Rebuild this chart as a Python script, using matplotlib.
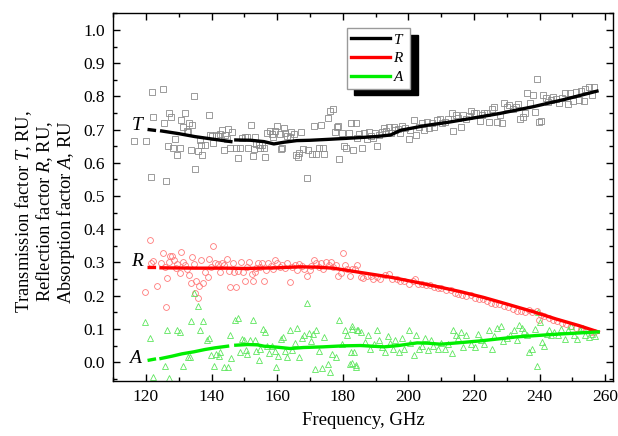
# -*- coding: utf-8 -*-
"""
T, R, A of the sample vs frequency
points = measured, thick line = smoothed
"""

import numpy as np
import matplotlib
matplotlib.use('Agg')
import matplotlib.pyplot as plt

plt.rcParams['font.family'] = 'Liberation Serif'
plt.rcParams['mathtext.fontset'] = 'custom'
plt.rcParams['mathtext.rm'] = 'Liberation Serif'
plt.rcParams['mathtext.it'] = 'Liberation Serif:italic'

############################## measured points ################################
# transmission T (gray squares)
freq_T = [116.3, 120.0, 121.5, 121.8, 122.2, 125.2, 125.5, 126.1, 126.8, 127.1,
          127.8, 128.3, 128.9, 129.5, 130.3, 130.8, 131.4, 131.8, 132.4, 132.8,
          133.2, 133.6, 134.2, 134.6, 135.1, 136.0, 136.4, 136.8, 137.2, 137.9,
          139.3, 139.6, 140.1, 140.6, 141.3, 141.9, 142.5, 143.2, 143.7, 144.0,
          144.7, 145.0, 145.5, 146.3, 147.5, 148.2, 148.7, 149.4, 150.2, 150.7,
          151.2, 152.0, 152.5, 153.0, 153.3, 153.7, 154.4, 154.9, 155.5, 155.9,
          156.3, 157.0, 157.8, 158.3, 158.8, 159.3, 160.0, 160.8, 161.1, 161.6,
          162.0, 162.5, 163.0, 163.8, 164.3, 165.0, 165.8, 166.3, 166.8, 167.3,
          168.0, 169.0, 169.3, 170.6, 171.1, 171.9, 172.7, 173.4, 174.1, 174.4,
          175.4, 176.1, 176.9, 177.7, 178.1, 178.7, 178.9, 179.9, 180.4, 181.1,
          181.9, 182.4, 183.1, 183.9, 184.5, 185.0, 186.0, 186.5, 187.5, 188.0,
          188.5, 189.2, 189.8, 190.5, 191.2, 192.0, 192.5, 193.2, 194.0, 194.8,
          195.5, 196.0, 196.8, 197.5, 198.2, 199.1, 200.1, 200.6, 201.6, 202.3,
          203.1, 204.1, 204.9, 205.6, 206.3, 207.1, 207.9, 208.6, 209.6, 210.3,
          211.1, 212.1, 213.2, 213.7, 214.4, 215.2, 216.0, 216.7, 217.7, 218.4,
          219.2, 220.0, 220.7, 221.7, 222.4, 223.2, 224.0, 224.7, 225.4, 226.2,
          227.1, 227.8, 228.5, 229.3, 230.1, 230.8, 231.8, 232.8, 233.5, 234.1,
          234.8, 235.5, 236.3, 237.1, 238.1, 238.5, 239.1, 239.8, 240.3, 241.1,
          241.9, 242.6, 243.4, 244.2, 244.9, 245.9, 246.9, 247.9, 248.6, 249.4,
          250.2, 251.2, 251.9, 252.6, 253.4, 253.9, 255.0, 256.0, 256.7]
T_pts = [0.667, 0.667, 0.556, 0.814, 0.739, 0.821, 0.719, 0.545, 0.650, 0.749,
         0.739, 0.646, 0.671, 0.623, 0.644, 0.729, 0.709, 0.751, 0.697, 0.694,
         0.721, 0.639, 0.714, 0.801, 0.581, 0.637, 0.669, 0.654, 0.625, 0.654,
         0.744, 0.684, 0.681, 0.659, 0.684, 0.681, 0.687, 0.699, 0.639, 0.684,
         0.671, 0.701, 0.646, 0.694, 0.644, 0.616, 0.644, 0.674, 0.677, 0.677,
         0.646, 0.714, 0.621, 0.641, 0.677, 0.657, 0.654, 0.646, 0.654, 0.646,
         0.619, 0.691, 0.697, 0.687, 0.679, 0.697, 0.711, 0.687, 0.641, 0.644,
         0.704, 0.691, 0.681, 0.677, 0.694, 0.687, 0.623, 0.619, 0.631, 0.694,
         0.641, 0.553, 0.639, 0.628, 0.711, 0.628, 0.646, 0.714, 0.646, 0.628,
         0.734, 0.757, 0.761, 0.694, 0.709, 0.711, 0.613, 0.691, 0.650, 0.644,
         0.691, 0.721, 0.639, 0.721, 0.674, 0.687, 0.646, 0.691, 0.671, 0.694,
         0.681, 0.674, 0.689, 0.650, 0.684, 0.694, 0.704, 0.697, 0.709, 0.691,
         0.709, 0.699, 0.701, 0.691, 0.711, 0.704, 0.671, 0.699, 0.729, 0.684,
         0.709, 0.721, 0.699, 0.724, 0.704, 0.719, 0.709, 0.729, 0.731, 0.721,
         0.724, 0.731, 0.749, 0.697, 0.744, 0.734, 0.709, 0.744, 0.731, 0.741,
         0.757, 0.749, 0.751, 0.727, 0.744, 0.751, 0.749, 0.724, 0.761, 0.769,
         0.724, 0.744, 0.721, 0.779, 0.767, 0.774, 0.761, 0.769, 0.777, 0.731,
         0.737, 0.749, 0.809, 0.779, 0.804, 0.754, 0.854, 0.724, 0.727, 0.804,
         0.794, 0.784, 0.789, 0.797, 0.791, 0.781, 0.794, 0.809, 0.777, 0.811,
         0.787, 0.814, 0.789, 0.817, 0.787, 0.821, 0.827, 0.804, 0.829]

# reflection R (red circles)
freq_R = [119.8, 121.3, 121.7, 122.3, 123.3, 124.7, 125.1, 125.7, 126.1, 126.5,
          127.1, 127.4, 128.1, 128.6, 129.1, 129.6, 130.4, 130.8, 131.4, 131.8,
          132.4, 133.1, 133.6, 134.1, 134.6, 135.1, 135.4, 135.8, 136.1, 136.8,
          137.4, 138.1, 138.8, 139.2, 139.8, 140.6, 141.1, 141.9, 142.5, 143.2,
          143.9, 144.7, 145.2, 145.7, 146.5, 146.9, 147.5, 148.2, 148.9, 149.5,
          150.2, 150.9, 151.5, 152.2, 152.7, 153.2, 153.7, 154.2, 154.9, 155.5,
          155.9, 156.6, 157.3, 158.0, 158.8, 159.5, 160.1, 160.8, 161.6, 162.3,
          163.0, 163.8, 164.6, 165.3, 166.0, 166.8, 167.6, 168.3, 169.0, 169.9,
          170.4, 171.1, 171.9, 172.7, 173.4, 174.1, 174.9, 175.7, 176.4, 177.1,
          177.9, 178.7, 179.4, 180.1, 180.7, 181.4, 182.1, 182.9, 183.7, 184.4,
          185.5, 186.2, 187.5, 188.5, 189.2, 190.5, 191.5, 192.8, 194.2, 195.0,
          196.5, 197.5, 198.8, 200.1, 201.3, 202.1, 202.9, 204.1, 205.3, 206.6,
          207.9, 208.9, 210.1, 211.6, 213.0, 214.2, 215.2, 216.4, 217.7, 219.0,
          220.2, 221.4, 222.7, 224.0, 225.2, 226.4, 227.7, 229.1, 230.3, 231.8,
          233.1, 234.3, 235.5, 236.8, 237.8, 239.3, 239.8, 240.5, 241.5, 242.9,
          244.2, 245.4, 246.9, 248.2, 249.6, 251.2, 252.6, 254.2, 255.6, 256.7]
R_pts = [0.212, 0.368, 0.297, 0.305, 0.229, 0.299, 0.329, 0.285, 0.167, 0.252,
         0.302, 0.319, 0.319, 0.309, 0.282, 0.295, 0.267, 0.332, 0.302, 0.292,
         0.279, 0.262, 0.237, 0.317, 0.295, 0.209, 0.245, 0.192, 0.229, 0.309,
         0.239, 0.272, 0.255, 0.312, 0.287, 0.349, 0.299, 0.295, 0.272, 0.299,
         0.292, 0.312, 0.275, 0.225, 0.299, 0.272, 0.225, 0.275, 0.302, 0.272,
         0.245, 0.287, 0.302, 0.265, 0.245, 0.272, 0.282, 0.299, 0.287, 0.297,
         0.245, 0.277, 0.297, 0.289, 0.279, 0.309, 0.299, 0.287, 0.292, 0.282,
         0.299, 0.242, 0.287, 0.292, 0.277, 0.295, 0.289, 0.279, 0.259, 0.277,
         0.289, 0.309, 0.299, 0.287, 0.297, 0.279, 0.302, 0.292, 0.302, 0.287,
         0.292, 0.259, 0.269, 0.329, 0.292, 0.279, 0.259, 0.279, 0.279, 0.292,
         0.257, 0.252, 0.259, 0.259, 0.249, 0.257, 0.249, 0.262, 0.265, 0.249,
         0.249, 0.245, 0.245, 0.235, 0.245, 0.249, 0.235, 0.235, 0.232, 0.232,
         0.227, 0.222, 0.222, 0.217, 0.217, 0.209, 0.205, 0.202, 0.199, 0.202,
         0.192, 0.189, 0.189, 0.185, 0.179, 0.175, 0.175, 0.169, 0.165, 0.159,
         0.155, 0.155, 0.152, 0.157, 0.152, 0.155, 0.126, 0.141, 0.138, 0.134,
         0.128, 0.124, 0.118, 0.114, 0.108, 0.104, 0.101, 0.096, 0.091, 0.091]

# absorption A (green triangles)
freq_A = [119.8, 121.3, 122.3, 125.7, 126.5, 127.1, 129.4, 130.4, 131.4, 132.8,
          133.4, 133.8, 134.8, 135.8, 136.6, 137.4, 138.6, 139.1, 139.8, 140.8,
          141.5, 142.2, 142.7, 143.7, 144.9, 145.5, 145.9, 147.2, 148.2, 148.7,
          149.2, 149.9, 150.5, 150.9, 151.7, 152.5, 153.2, 153.7, 154.5, 154.9,
          155.8, 156.3, 156.8, 157.6, 158.3, 159.3, 159.8, 160.3, 161.3, 161.8,
          162.3, 163.0, 163.8, 164.6, 165.3, 166.0, 166.8, 167.6, 168.3, 169.0,
          169.7, 170.4, 170.9, 171.4, 171.9, 172.7, 173.7, 174.4, 175.4, 176.1,
          176.7, 177.9, 178.9, 179.7, 180.7, 181.4, 182.1, 182.9, 183.9, 184.4,
          182.4, 182.9, 183.4, 182.9, 184.1, 184.7, 185.5, 186.8, 187.8, 188.2,
          189.5, 190.5, 191.2, 192.0, 192.8, 193.8, 194.5, 195.2, 196.0, 197.0,
          198.0, 198.6, 200.1, 200.6, 201.6, 202.3, 203.1, 204.3, 205.1, 205.9,
          206.9, 207.6, 208.9, 210.1, 211.3, 212.1, 213.2, 213.7, 214.4, 215.2,
          216.0, 216.7, 217.7, 219.0, 220.2, 221.2, 222.0, 223.2, 224.7, 225.4,
          226.2, 227.0, 228.1, 228.8, 230.1, 231.1, 232.3, 233.1, 233.8, 234.5,
          235.3, 236.1, 236.8, 237.8, 238.5, 239.1, 239.5, 240.1, 240.8, 241.5,
          242.2, 242.9, 243.6, 244.4, 245.6, 246.6, 247.9, 248.6, 249.6, 250.4,
          251.4, 252.2, 253.2, 254.0, 255.0, 256.0, 257.0]
A_pts = [0.121, 0.074, -0.044, -0.012, 0.096, -0.049, 0.098, 0.091, -0.012, 0.014,
         0.014, 0.125, 0.209, 0.169, 0.098, 0.125, 0.068, 0.074, 0.021, -0.012,
         0.024, 0.018, 0.031, -0.014, -0.016, 0.081, 0.011, 0.128, 0.134, 0.031,
         0.071, 0.068, 0.038, 0.024, 0.068, 0.128, 0.068, 0.034, 0.006, 0.041,
         0.101, 0.091, 0.048, 0.028, 0.048, 0.034, -0.014, 0.018, 0.071, 0.076,
         0.034, 0.014, 0.096, 0.038, 0.058, 0.104, 0.016, 0.074, 0.081, 0.179,
         0.088, 0.064, 0.086, -0.022, 0.096, 0.034, -0.019, 0.076, -0.006, -0.029,
         0.024, 0.014, 0.128, 0.054, 0.096, 0.081, -0.006, 0.108, -0.009, 0.096,
         0.031, 0.101, 0.031, -0.004, -0.014, 0.096, 0.091, 0.061, 0.081, 0.041,
         0.054, 0.096, 0.066, 0.046, 0.031, 0.078, 0.058, 0.041, 0.068, 0.031,
         0.074, 0.041, 0.096, 0.058, 0.021, 0.081, 0.041, 0.048, 0.074, 0.036,
         0.068, 0.048, 0.041, 0.058, 0.041, 0.056, 0.028, 0.096, 0.081, 0.074,
         0.091, 0.046, 0.081, 0.054, 0.046, 0.086, 0.066, 0.054, 0.096, 0.041,
         0.078, 0.104, 0.108, 0.064, 0.074, 0.081, 0.096, 0.066, 0.111, 0.104,
         0.094, 0.081, 0.031, 0.041, 0.101, -0.012, 0.152, 0.121, 0.061, 0.048,
         0.086, 0.096, 0.081, 0.091, 0.081, 0.101, 0.071, 0.096, 0.108, 0.081,
         0.071, 0.096, 0.104, 0.081, 0.076, 0.086, 0.078]

############################## smoothed curves ################################
# NaN = break in the line
freq_Tfit = [121.0, 122.6, np.nan, 124.8, 130, 135, 140, 145.9, np.nan,
             147.4, 152, 156, 159, 162, 166, 170, 176, 185, 190, 194.6,
             197.6, 205, 212, 219.8, 228, 238, 248, 257.5]
T_fit = [0.700, 0.698, np.nan, 0.696, 0.688, 0.679, 0.672, 0.664, np.nan,
         0.669, 0.668, 0.664, 0.657, 0.662, 0.667, 0.668, 0.671, 0.676, 0.679,
         0.684, 0.698, 0.712, 0.722, 0.735, 0.749, 0.769, 0.792, 0.816]

freq_Rfit = [121.0, 122.6, np.nan, 124.6, 135, 145, 150, 160, 167, 172, 177,
             181, 185.4, 190, 195, 202.7, 210, 216, 222.9, 230, 238, 245, 252,
             257.9]
R_fit = [0.285, 0.285, np.nan, 0.284, 0.283, 0.283, 0.282, 0.284, 0.287,
         0.286, 0.283, 0.277, 0.270, 0.263, 0.255, 0.240, 0.225, 0.212, 0.195,
         0.175, 0.152, 0.130, 0.110, 0.091]

freq_Afit = [121.0, 122.6, np.nan, 124.6, 128, 131, 134.6, 138, 141, 144.9,
             np.nan, 147.4, 151, 154, 156, 160, 164, 168, 174, 180, 185.4,
             192.6, 197, 202.7, 206, 209.8, 215, 222, 233, 245, 257.9]
A_fit = [0.006, 0.009, np.nan, 0.011, 0.018, 0.025, 0.031, 0.038, 0.043,
         0.048, np.nan, 0.051, 0.053, 0.052, 0.048, 0.045, 0.041, 0.044, 0.046,
         0.049, 0.050, 0.046, 0.050, 0.058, 0.057, 0.054, 0.058, 0.064, 0.076,
         0.084, 0.091]

################################## plot #######################################
fig = plt.figure(figsize=(6.18, 4.36), dpi=100)
ax = fig.add_axes([0.183, 0.126, 0.809, 0.844])

ax.plot(freq_T, T_pts, 's', ms=4, mfc='none', mec='#8c8c8c', mew=0.6)
ax.plot(freq_R, R_pts, 'o', ms=4.2, mfc='none', mec='#ff7a7a', mew=0.6)
ax.plot(freq_A, A_pts, '^', ms=4.5, mfc='none', mec='#5ee65e', mew=0.6)

ax.plot(freq_Tfit, T_fit, color='black', lw=2.4, label='$T$')
ax.plot(freq_Rfit, R_fit, color='red', lw=2.4, label='$R$')
ax.plot(freq_Afit, A_fit, color='#00ee00', lw=2.4, label='$A$')

# curve names next to the lines
ax.text(117.6, 0.714, '$T$', fontsize=14, ha='center', va='center')
ax.text(117.6, 0.304, '$R$', fontsize=14, ha='center', va='center')
ax.text(116.8, 0.012, '$A$', fontsize=14, ha='center', va='center')

ax.set_xlim(110.3, 262.4)
ax.set_ylim(-0.057, 1.051)
ax.set_xticks(np.arange(120, 261, 20))
ax.set_xticks(np.arange(110, 262, 10), minor=True)
ax.set_yticks(np.arange(0, 1.01, 0.1))
ax.set_yticks(np.arange(-0.05, 1.06, 0.05), minor=True)
ax.yaxis.set_major_formatter(matplotlib.ticker.FormatStrFormatter('%.1f'))
ax.tick_params(which='both', direction='in', top=True, right=True,
               labelsize=12.5, width=1.0, pad=6)
ax.tick_params(which='major', length=5)
ax.tick_params(which='minor', length=3)
for s in ax.spines.values():
    s.set_linewidth(1.0)

ax.set_xlabel('Frequency, GHz', fontsize=13.5)
ax.xaxis.set_label_coords(0.5, -0.085)
ax.set_ylabel('Transmission factor $T$, RU,\nReflection factor $R$, RU,\n'
              'Absorption factor $A$, RU', fontsize=13.3, linespacing=1.02)
ax.yaxis.set_label_coords(-0.072, 0.46)

ax.legend(loc='upper left', bbox_to_anchor=(0.467, 0.959), borderaxespad=0,
          fontsize=11, handlelength=2.55, fancybox=False, framealpha=1,
          edgecolor='#9a9a9a', labelspacing=0.3, borderpad=0.3,
          handletextpad=0.2,
          shadow={'ox': 5.5, 'oy': -5, 'color': 'black', 'alpha': 1})

fig.savefig('out.png', dpi=100)
